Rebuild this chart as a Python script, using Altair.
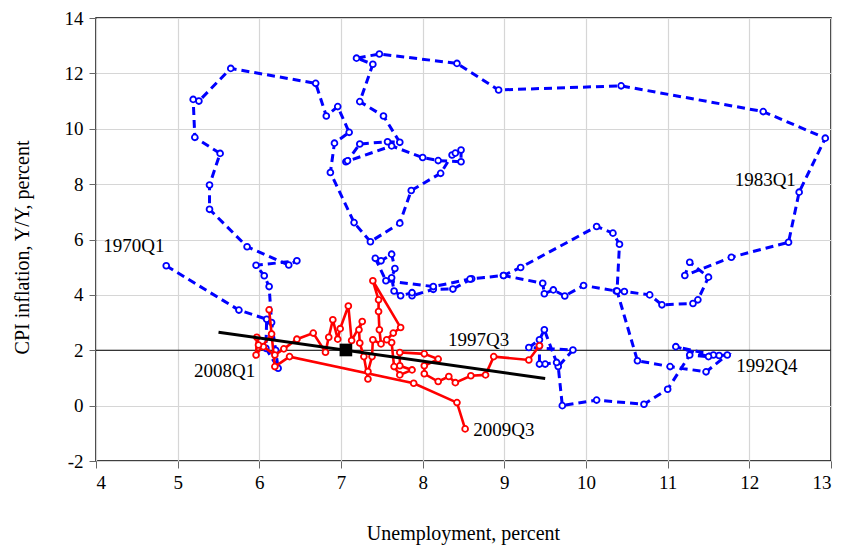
import altair as alt
import pandas as pd

# Blue: 1970Q1 - 1997Q3 (unemployment %, CPI inflation Y/Y %)
blue_u = [4.86, 5.75, 6.09, 6.08, 6.23, 6.20, 6.15, 6.12, 6.06, 5.96, 6.46, 6.36,
          5.85, 5.39, 5.39, 5.52, 5.21, 5.19, 5.26, 5.65, 6.69, 6.82, 6.96, 7.10,
          6.92, 6.87, 7.16, 7.36, 7.72, 7.86, 8.22, 8.36, 8.40, 8.47, 8.47, 8.19,
          8.00, 7.62, 7.06, 7.08, 7.23, 7.57, 7.72, 7.52, 7.23, 7.39, 7.19, 7.47,
          8.42, 8.93, 10.43, 12.17, 12.93, 12.61, 12.48, 11.78, 11.21, 11.27, 11.50,
          11.37, 11.31, 10.93, 10.78, 10.47, 10.37, 9.97, 9.74, 9.60, 9.49, 9.47,
          8.99, 8.60, 8.37, 8.13, 7.87, 7.87, 7.73, 7.65, 7.62, 7.66, 7.62, 7.49,
          7.42, 7.55, 8.13, 8.58, 8.99, 9.20, 10.13, 10.33, 10.41, 10.38, 10.63,
          11.03, 11.47, 11.73, 11.63, 11.56, 11.10, 11.50, 11.27, 11.00, 10.71,
          10.13, 9.71, 9.66, 9.84, 9.30, 9.43, 9.49, 9.64, 9.50, 9.43, 9.43]
blue_pi = [5.05, 3.45, 3.12, 2.07, 1.35, 2.00, 3.00, 4.30, 4.69, 5.07, 5.23, 5.08,
           5.74, 7.09, 7.97, 9.11, 9.69, 11.06, 11.00, 12.18, 11.64, 10.46, 10.80, 9.87,
           9.48, 8.42, 6.61, 5.92, 6.59, 7.77, 8.39, 9.05, 9.12, 9.23, 8.81, 8.85,
           8.96, 9.38, 8.81, 8.84, 9.45, 9.53, 9.51, 10.46, 10.98, 12.33, 12.55, 12.70,
           12.36, 11.40, 11.55, 10.62, 9.66, 7.71, 5.90, 5.36, 4.70, 5.18, 4.64,
           3.82, 3.69, 3.64, 4.00, 4.12, 4.14, 4.34, 3.96, 4.18, 4.04, 4.42,
           4.70, 4.58, 4.21, 4.20, 3.97, 4.08, 3.97, 4.14, 4.62, 4.95, 5.47, 5.23,
           5.32, 4.51, 4.30, 4.57, 4.70, 4.99, 6.47, 6.23, 5.83, 4.14, 1.62,
           1.41, 1.22, 1.83, 1.81, 1.83, 2.13, 1.77, 1.83, 0.59, 0.05,
           0.20, 0.00, 1.41, 2.01, 2.10, 2.38, 2.74, 1.56, 1.50, 1.50, 2.16]

# Red: 1997Q3 - 2009Q3
red_u = [9.43, 9.30, 8.87, 8.77, 8.59, 8.40, 8.32, 8.19, 8.02, 8.02, 8.19, 8.02,
         7.72, 7.72, 7.87, 7.72, 7.65, 7.62, 7.56, 7.64, 7.73, 7.39, 7.46, 7.46,
         7.47, 7.49, 7.39, 7.38, 7.33, 7.33, 7.28, 7.23, 7.22, 7.26, 7.13, 7.09,
         6.99, 6.96, 6.90, 6.85, 6.81, 6.66, 6.46, 6.30, 6.19, 6.05, 5.99, 5.97,
         5.96, 6.15, 6.12, 6.19, 6.37, 7.89, 8.42, 8.52]
red_pi = [2.16, 1.65, 1.77, 1.11, 1.08, 0.83, 1.05, 0.87, 1.15, 1.44, 1.68, 1.87,
          1.92, 1.44, 1.29, 1.11, 1.41, 2.28, 2.38, 2.62, 2.82, 4.51, 3.82, 3.40,
          2.74, 2.23, 2.38, 1.77, 1.23, 0.96, 1.77, 2.26, 2.74, 3.04, 2.35, 3.60,
          2.78, 2.40, 3.10, 2.47, 1.93, 2.62, 2.40, 2.05, 1.83, 2.13, 2.19, 2.47,
          1.83, 2.59, 3.46, 1.41, 1.77, 0.81, 0.11, -0.84]

# Regression line endpoints and mean point
reg_u = [5.50, 9.50]
reg_pi = [2.65, 0.98]
mean_u = [7.06]
mean_pi = [2.01]

label_text = ["1970Q1", "1983Q1", "2008Q1", "1997Q3", "2009Q3", "1992Q4"]
label_u = [4.09, 11.82, 5.20, 8.31, 8.62, 11.84]
label_pi = [5.77, 8.15, 1.26, 2.36, -0.89, 1.42]

blue = pd.DataFrame({"u": blue_u, "pi": blue_pi, "k": range(len(blue_u))})
red = pd.DataFrame({"u": red_u, "pi": red_pi, "k": range(len(red_u))})
reg = pd.DataFrame({"u": reg_u, "pi": reg_pi})
mean = pd.DataFrame({"u": mean_u, "pi": mean_pi})
labels = pd.DataFrame({"u": label_u, "pi": label_pi, "t": label_text})
target = pd.DataFrame({"pi": [2]})

FONT = "Liberation Serif"

xs = alt.Scale(domain=[4, 13], nice=False, zero=False)
ys = alt.Scale(domain=[-2, 14], nice=False, zero=False)

X = alt.X("u:Q", scale=xs, axis=alt.Axis(
    values=list(range(4, 14)), title="Unemployment, percent",
    labelExpr="'' + datum.value",
    titleX=367, titleY=72, titleBaseline="middle", labelPadding=5))
Y = alt.Y("pi:Q", scale=ys, axis=alt.Axis(
    values=list(range(-2, 15, 2)), title="CPI inflation, Y/Y, percent",
    labelExpr="'' + datum.value",
    titleX=-74, titleY=229, titleAngle=-90, titleAlign="center",
    titleBaseline="middle", labelPadding=6))

base_rule = alt.Chart(target).mark_rule(color="black", strokeWidth=1).encode(y=alt.Y("pi:Q", scale=ys))

blue_line = alt.Chart(blue).mark_line(color="#0000ff", strokeWidth=3, strokeDash=[8, 5]).encode(
    x=X, y=Y, order="k:Q")
blue_pts = alt.Chart(blue).mark_point(shape="circle", size=34, fill="white", fillOpacity=1,
                                      stroke="#0000ff", strokeWidth=1.8, opacity=1).encode(x="u:Q", y="pi:Q")
red_line = alt.Chart(red).mark_line(color="#ff0000", strokeWidth=2.6).encode(
    x="u:Q", y="pi:Q", order="k:Q")
red_pts = alt.Chart(red).mark_point(shape="circle", size=34, fill="white", fillOpacity=1,
                                    stroke="#ff0000", strokeWidth=1.8, opacity=1).encode(x="u:Q", y="pi:Q")
reg_line = alt.Chart(reg).mark_line(color="black", strokeWidth=3).encode(x="u:Q", y="pi:Q")
mean_pt = alt.Chart(mean).mark_square(size=160, color="black", opacity=1).encode(x="u:Q", y="pi:Q")
text = alt.Chart(labels).mark_text(font=FONT, fontSize=19, align="left", baseline="middle",
                                   color="black").encode(x="u:Q", y="pi:Q", text="t:N")

chart = alt.layer(base_rule, blue_line, blue_pts, red_line, red_pts, reg_line, mean_pt, text).properties(
    width=735, height=443,
    autosize=alt.AutoSizeParams(type="none"),
    padding={"left": 88, "top": 10, "right": 2, "bottom": 86},
).configure_view(stroke="black", strokeWidth=1.5).configure_axis(
    grid=True, gridColor="#d6d6d6", gridWidth=1.2,
    domain=False, tickColor="#666666", tickSize=7, tickWidth=1,
    labelFont=FONT, labelFontSize=19, labelColor="black",
    titleFont=FONT, titleFontSize=20, titleFontWeight="normal", titleColor="black",
)

chart.save("out.html", embed_options={"renderer": "svg", "actions": False})
